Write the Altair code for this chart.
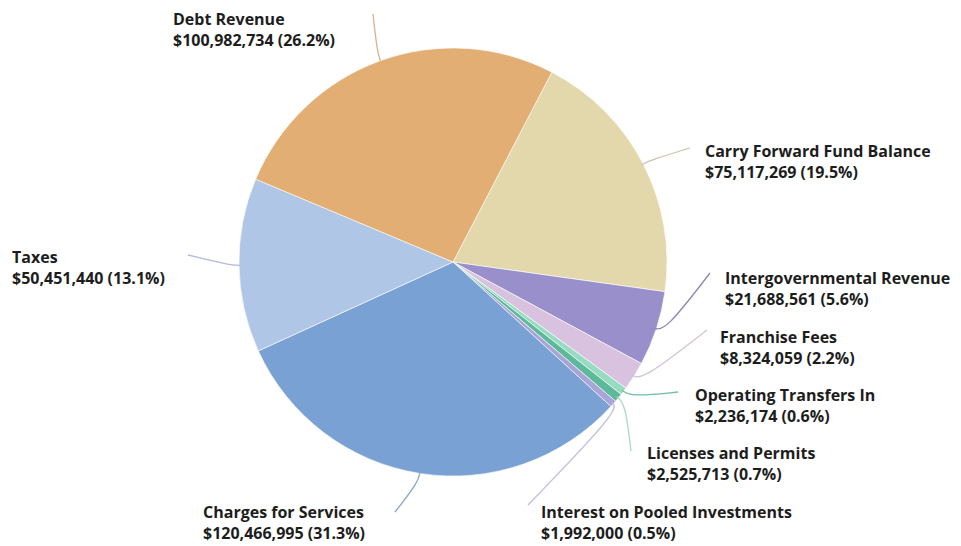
import math
import altair as alt
import pandas as pd

# ---------------- data ----------------
names = ["Carry Forward Fund Balance", "Intergovernmental Revenue", "Franchise Fees",
         "Operating Transfers In", "Licenses and Permits", "Interest on Pooled Investments",
         "Charges for Services", "Taxes", "Debt Revenue"]
values = [75117269, 21688561, 8324059, 2236174, 2525713, 1992000, 120466995, 50451440, 100982734]
percents = ["19.5%", "5.6%", "2.2%", "0.6%", "0.7%", "0.5%", "31.3%", "13.1%", "26.2%"]

# ---------------- styles ----------------
colors = ["#E3D8AB", "#9990CB", "#D9C1E0", "#97DCC0", "#5DB99A", "#AAA3D8",
          "#7AA1D3", "#B0C6E7", "#E3AE73"]
line_colors = ["#C9C4AE", "#8A86B8", "#D2C3D8", "#6DBFA0", "#A9D9C5", "#C0BCE0",
               "#8BA5C8", "#B5B8E0", "#D8B48A"]

# ---------------- layout ----------------
W, H = 945, 538
CX, CY, R = 445, 254, 214
START_DEG = 27.5
FONT = "Open Sans"
FS = 16
label_x = [697, 717, 712, 687, 639, 533, 195, 4, 165]
label_y = [149, 276, 335, 393, 451, 510, 510, 255, 17]
leader_end = [(682, 140), (702, 265), (699, 322), (670, 384), (623, 443),
              (520, 497), (387, 504), (180, 247), (365, 6)]

# ---------------- build tables ----------------
total = sum(values)
pie_df = pd.DataFrame({"name": names, "value": values, "order": list(range(len(names)))})

a0 = math.radians(START_DEG)
rows = []
cum = 0
for i, (n, v) in enumerate(zip(names, values)):
    mid = a0 + 2 * math.pi * (cum + v / 2) / total
    cum += v
    sx, sy = CX + (R - 2) * math.sin(mid), CY - (R - 2) * math.cos(mid)
    ex1, ey1 = CX + (R + 9) * math.sin(mid), CY - (R + 9) * math.cos(mid)
    ex, ey = leader_end[i]
    for k, (px, py) in enumerate([(sx, sy), (ex1, ey1), (ex, ey)]):
        rows.append({"name": n, "k": k, "px": px, "py": py})
line_df = pd.DataFrame(rows)

lab_df = pd.DataFrame({
    "name": names,
    "line2": [f"${v:,} ({p})" for v, p in zip(values, percents)],
    "lx": label_x,
    "ly": label_y,
})
lab_df["ly2"] = lab_df["ly"] + 21

xs = alt.Scale(domain=[0, W], range=[0, W])
ys = alt.Scale(domain=[0, H], range=[0, H])
cscale = alt.Scale(domain=names, range=colors)
lscale = alt.Scale(domain=names, range=line_colors)

pie = alt.Chart(pie_df).mark_arc(radius=R, stroke="white", strokeWidth=0.6).encode(
    theta=alt.Theta("value:Q", stack=True, scale=alt.Scale(range=[a0, a0 + 2 * math.pi])),
    order=alt.Order("order:Q"),
    color=alt.Color("name:N", scale=cscale, legend=None),
    x=alt.value(CX),
    y=alt.value(CY),
)

leaders = alt.Chart(line_df).mark_line(strokeWidth=1.3, interpolate="basis").encode(
    x=alt.X("px:Q", scale=xs, axis=None),
    y=alt.Y("py:Q", scale=ys, axis=None),
    detail="name:N",
    order="k:Q",
    color=alt.Color("name:N", scale=lscale, legend=None),
)

text_style = dict(align="left", baseline="alphabetic", font=FONT,
                  fontSize=FS, fontWeight="bold", color="#1d1d1d")
t1 = alt.Chart(lab_df).mark_text(**text_style).encode(
    x=alt.X("lx:Q", scale=xs, axis=None),
    y=alt.Y("ly:Q", scale=ys, axis=None),
    text="name:N",
)
t2 = alt.Chart(lab_df).mark_text(**text_style).encode(
    x=alt.X("lx:Q", scale=xs, axis=None),
    y=alt.Y("ly2:Q", scale=ys, axis=None),
    text="line2:N",
)

chart = alt.layer(pie, leaders, t1, t2).resolve_scale(color="independent").properties(
    width=W, height=H, padding=0, autosize=alt.AutoSizeParams(type="none")
).configure_view(stroke=None)

chart.save("out.html", embed_options={"renderer": "svg", "actions": False})
